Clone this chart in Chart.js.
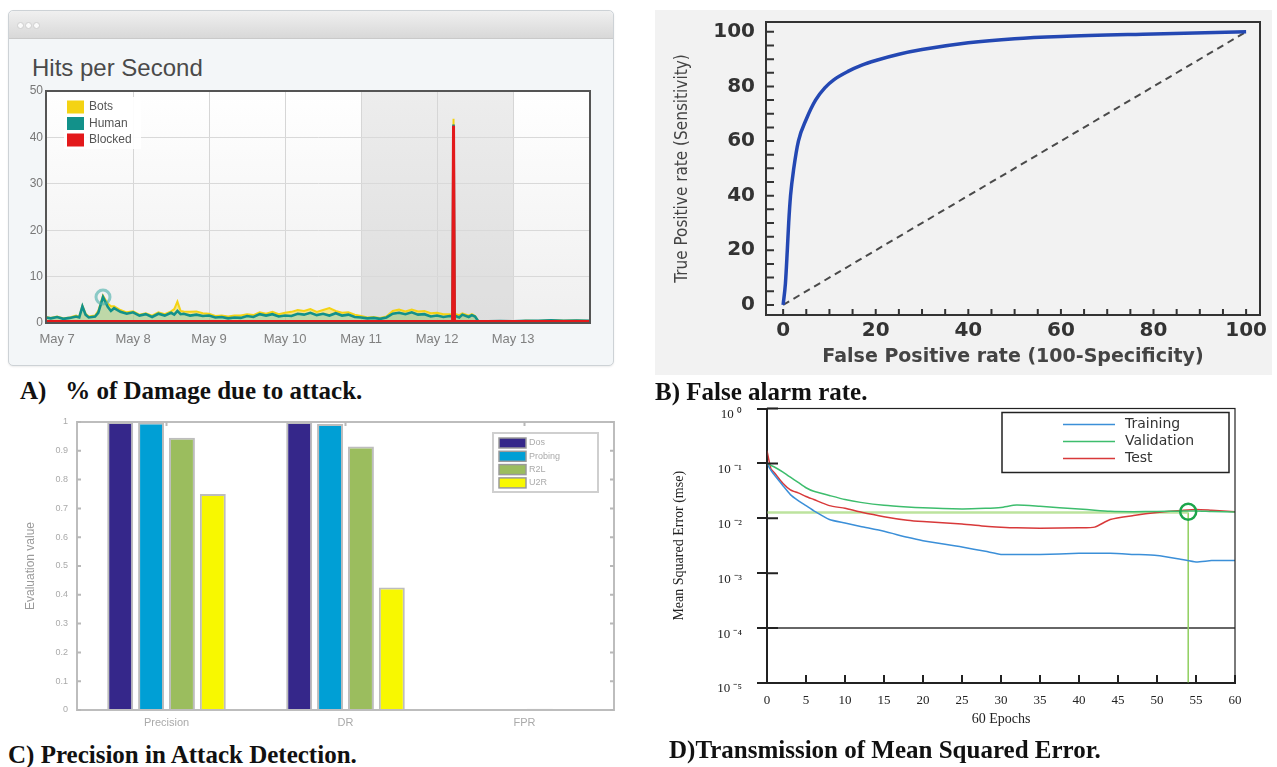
<!DOCTYPE html>
<html>
<head>
<meta charset="utf-8">
<title>Attack detection figures</title>
<script src="https://cdn.jsdelivr.net/npm/chart.js@4.4.0/dist/chart.umd.min.js"></script>
<style>
  body { margin: 0; background: #fff; }
  #page { position: relative; width: 1277px; height: 767px; overflow: hidden; }
  .abs { position: absolute; }
  #winA { left: 8px; top: 10px; width: 604px; height: 354px; border: 1px solid #cdd2d6; border-radius: 5px; background: #f3f6f8; box-shadow: 0 1px 2px rgba(0,0,0,0.08); }
  #winA .bar { height: 27px; border-bottom: 1px solid #c9c9c9; border-radius: 5px 5px 0 0; background: linear-gradient(#f0f0f0, #d8d8d8); }
  .dot { position: absolute; top: 11px; width: 5px; height: 5px; border-radius: 50%; background: #fafafa; border: 1px solid #cfcfcf; }
  #titleA { left: 32px; top: 56px; font: 24px 'Liberation Sans', Arial, sans-serif; line-height: 24px; color: #4a4a4a; }
  #bgB { left: 655px; top: 10px; width: 617px; height: 365px; background: #f2f2f2; }
  .cap { position: absolute; font: bold 25px 'Liberation Serif', 'Times New Roman', serif; line-height: 28px; color: #111; white-space: pre; }
  canvas { position: absolute; }
</style>
</head>
<body>
<div id="page">
  <div id="winA" class="abs"><div class="bar"></div>
    <span class="dot" style="left:8px"></span><span class="dot" style="left:16px"></span><span class="dot" style="left:24px"></span>
  </div>
  <div id="titleA" class="abs">Hits per Second</div>
  <canvas id="chartA" style="left:0;top:40px" width="614" height="326"></canvas>

  <div id="bgB" class="abs"></div>
  <canvas id="chartB" style="left:655px;top:10px" width="617" height="365"></canvas>

  <canvas id="chartC" style="left:0;top:410px" width="625" height="330"></canvas>
  <canvas id="chartD" style="left:640px;top:398px" width="637" height="340"></canvas>

  <div class="cap" style="left:20px;top:377px">A)   % of Damage due to attack.</div>
  <div class="cap" style="left:655px;top:378px">B) False alarm rate.</div>
  <div class="cap" style="left:8px;top:741px">C) Precision in Attack Detection.</div>
  <div class="cap" style="left:669px;top:736px">D)Transmission of Mean Squared Error.</div>
</div>

<script>
// ---------- A) hits per second (hours from May 7 00:00) ----------
const hitHours = [
  -3.5, -2, 0, 2, 4, 6, 7, 8, 9, 10,
  12, 13, 14.5, 16, 17, 18, 20, 22, 24, 26,
  28, 30, 32, 34, 36, 37, 38, 39, 40, 42,
  44, 46, 48, 50, 52, 54, 56, 58, 60, 62,
  64, 66, 68, 70, 72, 74, 76, 78, 80, 82,
  84, 86, 88, 90, 92, 94, 96, 98, 100, 102,
  104, 106, 108, 110, 112, 114, 116, 118, 120, 122,
  124, 124.9, 125.2, 125.5, 127, 128, 130, 131, 132, 133,
  134, 136, 140, 144, 148, 152, 156, 160, 164, 168.3
];
const blockedHits = [
  0.3, 0.3, 0.3, 0.3, 0.3, 0.3, 0.3, 0.3, 0.3, 0.3,
  0.3, 0.3, 0.3, 0.3, 0.3, 0.3, 0.3, 0.3, 0.3, 0.3,
  0.3, 0.3, 0.3, 0.3, 0.3, 0.3, 0.3, 0.3, 0.3, 0.3,
  0.3, 0.3, 0.3, 0.3, 0.3, 0.3, 0.3, 0.3, 0.3, 0.3,
  0.3, 0.3, 0.3, 0.3, 0.3, 0.3, 0.3, 0.3, 0.3, 0.3,
  0.3, 0.3, 0.3, 0.3, 0.3, 0.3, 0.3, 0.3, 0.3, 0.3,
  0.3, 0.3, 0.3, 0.3, 0.3, 0.3, 0.3, 0.3, 0.3, 0.3,
  0.3, 0.3, 42.5, 0.3, 0.3, 0.3, 0.3, 0.3, 0.3, 0.3,
  0.3, 0.3, 0.3, 0.3, 0.3, 0.3, 0.3, 0.3, 0.3, 0.3
];
const humanHits = [
  0.9, 0.7, 1.0, 0.6, 0.8, 1.1, 0.9, 3.3, 1.5, 0.9,
  1.1, 1.9, 5.3, 3.2, 2.3, 2.9, 2.1, 1.7, 2.0, 1.3,
  1.6, 1.0, 1.7, 1.3, 1.9, 1.5, 2.3, 1.6, 1.7, 1.3,
  1.5, 1.2, 1.3, 0.9, 1.0, 0.7, 0.9, 0.8, 1.2, 1.0,
  1.6, 1.3, 1.6, 1.1, 1.3, 1.2, 1.7, 1.5, 1.9, 1.4,
  1.7, 1.3, 1.8, 1.3, 1.5, 1.0, 0.9, 0.7, 0.8, 0.6,
  0.9, 1.7, 1.9, 1.6, 2.0, 1.5, 1.6, 1.1, 1.3, 1.0,
  1.2, 1.1, 0.3, 1.3, 0.9, 1.5, 1.0, 1.4, 1.1, 0.1,
  0, 0.05, 0.1, 0.05, 0.2, 0.15, 0.3, 0.2, 0.25, 0.15
];
const botsHits = [
  0.1, 0.1, 0.1, 0.1, 0.1, 0.2, 0.1, 0.1, 0.2, 0.2,
  0.2, 0.4, 0.3, 0.7, 1.0, 0.4, 0.4, 0.3, 0.2, 0.2,
  0.2, 0.3, 0.3, 0.3, 0.3, 1.2, 2.0, 0.7, 0.5, 0.8,
  0.7, 0.6, 0.4, 0.3, 0.3, 0.4, 0.4, 0.5, 0.4, 0.4,
  0.4, 0.4, 0.5, 0.5, 0.6, 0.9, 0.8, 0.8, 0.8, 0.7,
  0.8, 1.6, 0.5, 0.6, 0.5, 0.5, 0.3, 0.2, 0.2, 0.2,
  0.2, 0.6, 0.7, 0.6, 0.6, 0.7, 0.7, 0.7, 0.6, 0.6,
  0.4, 0.4, 1.2, 0.4, 0.5, 0.3, 0.3, 0.2, 0.1, 0,
  0, 0, 0, 0, 0, 0, 0, 0, 0, 0
];
const dayTicks = [0, 24, 48, 72, 96, 120, 144];
const dayLabels = ['May 7', 'May 8', 'May 9', 'May 10', 'May 11', 'May 12', 'May 13'];
const shadedHours = [96, 144];

// ---------- B) ROC curve ----------
const rocFpr = [0, 0.5, 0.9, 1.2, 1.6, 2.3, 3.3, 5, 7, 9, 11, 14, 17, 20, 25, 30, 40, 50, 60, 80, 100];
const rocTpr = [0, 8, 20, 30, 40, 50, 60, 68, 75, 79.5, 82.5, 85.5, 87.8, 89.5, 91.8, 93.5, 96, 97.5, 98.3, 99.2, 100];
const rocTicks = [0, 20, 40, 60, 80, 100];
const rocMinor = [0, 5, 10, 15, 20, 25, 30, 35, 40, 45, 50, 55, 60, 65, 70, 75, 80, 85, 90, 95, 100];

// ---------- C) evaluation values ----------
const metricLabels = ['Precision', 'DR', 'FPR'];
const dosScores = [1.0, 1.0, 0.003];
const probingScores = [0.998, 0.993, 0.003];
const r2lScores = [0.945, 0.915, 0.004];
const u2rScores = [0.75, 0.425, 0.003];

// ---------- D) mean squared error ----------
const epochs = [0, 0.5, 1, 2, 3, 4, 5, 6, 8, 10, 12, 15, 18, 20, 25, 28, 30, 32, 35, 40, 42, 44, 47, 50, 53, 55, 57, 60];
const trainMse = [0.1, 0.075, 0.06, 0.04, 0.027, 0.021, 0.017, 0.0137, 0.0095, 0.0082, 0.0071, 0.0058, 0.0045, 0.0039,
  0.003, 0.0025, 0.0022, 0.0022, 0.0022, 0.0023, 0.0023, 0.0023, 0.0022, 0.0021, 0.0018, 0.0016, 0.0017, 0.0017];
const validMse = [0.1, 0.092, 0.085, 0.07, 0.056, 0.045, 0.036, 0.031, 0.026, 0.022, 0.0195, 0.0172, 0.016, 0.0155,
  0.0148, 0.0152, 0.0158, 0.0174, 0.0165, 0.0148, 0.014, 0.0134, 0.0132, 0.0133, 0.0135, 0.0136, 0.0133, 0.013];
const testMse = [0.17, 0.08, 0.066, 0.044, 0.033, 0.029, 0.025, 0.022, 0.017, 0.0152, 0.013, 0.0107, 0.0092, 0.0087,
  0.0079, 0.0072, 0.0069, 0.0067, 0.0066, 0.0067, 0.0069, 0.0095, 0.0112, 0.0127, 0.0138, 0.0145, 0.014, 0.0132];
const bestEpoch = 54;
const bestMse = 0.0128;
const goalMse = 1e-4;
const decadeTicks = [1e-5, 1e-4, 1e-3, 1e-2, 1e-1, 1];
const decadeLabels = ['10 \u207b\u2075', '10 \u207b\u2074', '10 \u207b\u00b3', '10 \u207b\u00b2', '10 \u207b\u00b9', '10 \u2070'];
const epochTicks = [5, 10, 15, 20, 25, 30, 35, 40, 45, 50, 55, 60];


const pairs = (xs, ys) => xs.map((x, i) => ({ x: x, y: ys[i] }));

// fixed axis boxes, so the plot areas land where the figure has them
const fitY = w => s => { s.width = w; s.paddingTop = 0; s.paddingBottom = 0; };
const fitX = h => s => { s.height = h; s.paddingLeft = 0; s.paddingRight = 0; };

Chart.defaults.font.family = "'Liberation Sans', Arial, sans-serif";
Chart.defaults.animation = false;

// plot background (+ shaded band)
function makeBackground(band) {
  return {
    id: 'plotBg',
    beforeDraw(chart) {
      const ctx = chart.ctx, a = chart.chartArea;
      ctx.save();
      const g = ctx.createLinearGradient(0, a.top, 0, a.bottom);
      g.addColorStop(0, '#ffffff');
      g.addColorStop(1, '#efefef');
      ctx.fillStyle = g;
      ctx.fillRect(a.left, a.top, a.right - a.left, a.bottom - a.top);
      if (band) {
        const x = chart.scales.x;
        const x0 = x.getPixelForValue(band[0]), x1 = x.getPixelForValue(band[1]);
        ctx.fillStyle = 'rgba(0,0,0,0.07)';
        ctx.fillRect(x0, a.top, x1 - x0, a.bottom - a.top);
      }
      ctx.restore();
    }
  };
}

function makeFrame(color, width) {
  return {
    id: 'frame',
    afterDatasetsDraw(chart) {
      const ctx = chart.ctx, a = chart.chartArea;
      ctx.save();
      ctx.strokeStyle = color;
      ctx.lineWidth = width;
      ctx.strokeRect(a.left, a.top, a.right - a.left, a.bottom - a.top);
      ctx.restore();
    }
  };
}

// small tick marks drawn on the inside of the frame
function makeInnerTicks(list) {
  return {
    id: 'innerTicks',
    afterDatasetsDraw(chart) {
      const ctx = chart.ctx, a = chart.chartArea;
      ctx.save();
      list.forEach(t => {
        const s = chart.scales[t.axis];
        const px = t.values ? t.values.map(v => s.getPixelForValue(v)) : s.ticks.map((_, i) => s.getPixelForTick(i));
        ctx.strokeStyle = t.color;
        ctx.lineWidth = t.width;
        ctx.beginPath();
        px.forEach(p => {
          if (t.side === 'left') { ctx.moveTo(a.left, p); ctx.lineTo(a.left + t.len, p); }
          if (t.side === 'right') { ctx.moveTo(a.right, p); ctx.lineTo(a.right - t.len, p); }
          if (t.side === 'bottom') { ctx.moveTo(p, a.bottom); ctx.lineTo(p, a.bottom - t.len); }
          if (t.side === 'top') { ctx.moveTo(p, a.top); ctx.lineTo(p, a.top + t.len); }
        });
        ctx.stroke();
      });
      ctx.restore();
    }
  };
}

// legend box drawn inside the plot
function makeLegend(o) {
  return {
    id: 'boxLegend',
    afterDraw(chart) {
      const ctx = chart.ctx, a = chart.chartArea;
      const items = chart.data.datasets.filter(d => d.legend).sort((p, q) => p.legend - q.legend);
      const x = a.left + o.x, y = a.top + o.y;
      ctx.save();
      ctx.fillStyle = o.bg;
      ctx.fillRect(x, y, o.w, o.h);
      if (o.border) {
        ctx.strokeStyle = o.border;
        ctx.lineWidth = o.borderWidth;
        ctx.strokeRect(x, y, o.w, o.h);
      }
      ctx.font = o.font;
      ctx.textBaseline = 'middle';
      ctx.textAlign = 'left';
      items.forEach((d, i) => {
        const cy = y + o.first + i * o.rowH;
        if (o.kind === 'line') {
          ctx.strokeStyle = d.borderColor;
          ctx.lineWidth = 1.5;
          ctx.beginPath();
          ctx.moveTo(x + o.swX, cy);
          ctx.lineTo(x + o.swX + o.swW, cy);
          ctx.stroke();
        } else {
          ctx.fillStyle = o.kind === 'fill' ? d.backgroundColor : d.borderColor;
          ctx.fillRect(x + o.swX, cy - o.swH / 2, o.swW, o.swH);
          if (o.swBorder) {
            ctx.strokeStyle = o.swBorder;
            ctx.lineWidth = 1.5;
            ctx.strokeRect(x + o.swX, cy - o.swH / 2, o.swW, o.swH);
          }
        }
        ctx.fillStyle = o.color;
        ctx.fillText(d.label, x + o.textX, cy);
      });
      ctx.restore();
    }
  };
}

window.onload = function () {

  // ****************** A) Hits per Second ******************
  new Chart(document.getElementById('chartA'), {
    type: 'line',
    data: {
      datasets: [
        { label: 'Blocked', data: pairs(hitHours, blockedHits), borderColor: '#e3191b', backgroundColor: '#e3191b',
          borderWidth: 3, fill: 'origin', legend: 3 },
        { label: 'Human', data: pairs(hitHours, humanHits), borderColor: '#12918a', backgroundColor: 'rgba(150,196,110,0.55)',
          borderWidth: 2.6, fill: '-1', legend: 2,
          pointRadius: c => c.dataIndex === 12 ? 7 : 0,
          pointBorderColor: 'rgba(70,175,170,0.6)', pointBorderWidth: 3, pointBackgroundColor: 'rgba(0,0,0,0)' },
        { label: 'Bots', data: pairs(hitHours, botsHits), borderColor: '#f4d313', backgroundColor: 'rgba(246,222,70,0.6)',
          borderWidth: 2, fill: '-1', legend: 1 }
      ]
    },
    options: {
      responsive: false,
      devicePixelRatio: 1,
      layout: { padding: { top: 51, right: 24, left: 0, bottom: 0 } },
      elements: { point: { radius: 0 }, line: { tension: 0 } },
      scales: {
        x: {
          type: 'linear', min: -3.5, max: 168.3,
          afterBuildTicks: s => { s.ticks = dayTicks.map(v => ({ value: v })); },
          afterFit: fitX(43),
          ticks: { callback: (v, i) => dayLabels[i], color: '#808080', font: { size: 13 }, padding: 9, maxRotation: 0, autoSkip: false },
          grid: { color: c => c.index === 0 ? 'rgba(0,0,0,0)' : '#d6d6d6', drawTicks: false },
          border: { color: '#555', width: 2 }
        },
        y: {
          stacked: true, min: 0, max: 50,
          afterFit: fitY(46),
          ticks: { stepSize: 10, color: '#777', font: { size: 12 }, padding: 3 },
          grid: { color: '#d9d9d9', drawTicks: false },
          border: { color: '#555', width: 2 }
        }
      },
      plugins: { legend: { display: false }, tooltip: { enabled: false } }
    },
    plugins: [
      makeBackground(shadedHours),
      makeFrame('#555', 2),
      makeLegend({ x: 18, y: 6, w: 77, h: 52, bg: 'rgba(255,255,255,0.92)', first: 10, rowH: 16.5,
        kind: 'solid', swX: 3, swW: 17, swH: 13, textX: 25, font: "12px 'Liberation Sans', Arial", color: '#555' })
    ]
  });

  // ****************** B) ROC ******************
  new Chart(document.getElementById('chartB'), {
    type: 'line',
    data: {
      datasets: [
        { label: 'ROC', data: pairs(rocFpr, rocTpr), borderColor: '#2448b3', borderWidth: 3.5, cubicInterpolationMode: 'monotone' },
        { label: 'Chance', data: pairs([0, 100], [0, 100]), borderColor: '#4a4a4a', borderWidth: 2, borderDash: [7, 5] }
      ]
    },
    options: {
      responsive: false,
      devicePixelRatio: 1,
      layout: { padding: { top: 12, right: 12, left: 0, bottom: 0 } },
      elements: { point: { radius: 0 } },
      scales: {
        x: {
          type: 'linear', min: -3.7, max: 103,
          afterBuildTicks: s => { s.ticks = rocTicks.map(v => ({ value: v })); },
          afterFit: fitX(60),
          ticks: { color: '#333', font: { family: "'DejaVu Sans'", size: 20, weight: 'bold' }, padding: 4, maxRotation: 0 },
          grid: { display: false, drawTicks: false },
          border: { display: false },
          title: { display: true, text: 'False Positive rate (100-Specificity)', color: '#444',
            font: { family: "'DejaVu Sans'", size: 19, weight: 'bold' }, padding: { top: 0, bottom: 7 } }
        },
        y: {
          min: -3.7, max: 103.6,
          afterBuildTicks: s => { s.ticks = rocTicks.map(v => ({ value: v })); },
          afterFit: fitY(111),
          ticks: { color: '#333', font: { family: "'DejaVu Sans'", size: 20, weight: 'bold' }, padding: 11 },
          grid: { display: false, drawTicks: false },
          border: { display: false },
          title: { display: true, text: 'True Positive rate (Sensitivity)', color: '#444',
            font: { family: "'Liberation Sans Narrow', 'DejaVu Sans Condensed', 'Liberation Sans'", size: 17 }, padding: { top: 17, bottom: 0 } }
        }
      },
      plugins: { legend: { display: false }, tooltip: { enabled: false } }
    },
    plugins: [
      makeFrame('#333', 2),
      makeInnerTicks([
        { axis: 'y', side: 'left', values: rocMinor, len: 8, color: '#333', width: 2 },
        { axis: 'x', side: 'bottom', values: rocMinor, len: 6, color: '#333', width: 2 }
      ])
    ]
  });

  // ****************** C) Evaluation values ******************
  new Chart(document.getElementById('chartC'), {
    type: 'bar',
    data: {
      labels: metricLabels,
      datasets: [
        { label: 'Dos', data: dosScores, backgroundColor: '#35278a', legend: 1 },
        { label: 'Probing', data: probingScores, backgroundColor: '#009fd5', legend: 2 },
        { label: 'R2L', data: r2lScores, backgroundColor: '#9bbd5e', legend: 3 },
        { label: 'U2R', data: u2rScores, backgroundColor: '#f8f800', legend: 4 }
      ]
    },
    options: {
      responsive: false,
      devicePixelRatio: 1,
      layout: { padding: { top: 12, right: 11, left: 0, bottom: 0 } },
      datasets: { bar: { categoryPercentage: 0.69, barPercentage: 0.84, borderColor: '#bdbdbd', borderWidth: 2 } },
      scales: {
        x: {
          afterFit: fitX(30),
          ticks: { color: '#aaa', font: { size: 11 }, padding: 6 },
          grid: { display: false, drawTicks: false },
          border: { color: '#b8b8b8', width: 2 }
        },
        y: {
          min: 0, max: 1,
          afterFit: fitY(77),
          ticks: { stepSize: 0.1, color: '#aaa', font: { size: 9 }, padding: 9,
            callback: v => (v === 0 || v === 1) ? String(v) : v.toFixed(1) },
          grid: { display: false, drawTicks: false },
          border: { color: '#b8b8b8', width: 2 },
          title: { display: true, text: 'Evaluation value', color: '#9a9a9a', font: { size: 12 }, padding: { top: 23, bottom: 0 } }
        }
      },
      plugins: { legend: { display: false }, tooltip: { enabled: false } }
    },
    plugins: [
      makeFrame('#bdbdbd', 2),
      makeInnerTicks([
        { axis: 'y', side: 'left', len: 4, color: '#b8b8b8', width: 2 },
        { axis: 'y', side: 'right', len: 4, color: '#b8b8b8', width: 2 },
        { axis: 'x', side: 'top', len: 4, color: '#b8b8b8', width: 2 }
      ]),
      makeLegend({ x: 416, y: 11, w: 105, h: 59, bg: '#fff', border: '#cfcfcf', borderWidth: 2, first: 10, rowH: 13.3,
        kind: 'fill', swX: 6, swW: 27, swH: 10, swBorder: '#9a9a9a', textX: 36, font: "9px 'Liberation Sans', Arial", color: '#aaa' })
    ]
  });

  // ****************** D) Mean squared error ******************
  new Chart(document.getElementById('chartD'), {
    type: 'line',
    data: {
      datasets: [
        { label: 'Best point', data: [{ x: bestEpoch, y: 0.0132 }], showLine: false, pointRadius: 8,
          pointBorderColor: '#1ba64b', pointBorderWidth: 2.5, pointBackgroundColor: 'rgba(0,0,0,0)' },
        { label: 'Training', data: pairs(epochs, trainMse), borderColor: '#3b8fd8', borderWidth: 1.5, legend: 1 },
        { label: 'Validation', data: pairs(epochs, validMse), borderColor: '#3dbd6d', borderWidth: 1.5, legend: 2 },
        { label: 'Test', data: pairs(epochs, testMse), borderColor: '#d8393a', borderWidth: 1.5, legend: 3 },
        { label: 'Best', data: pairs([0, bestEpoch], [bestMse, bestMse]), borderColor: '#bde39e', borderWidth: 2.5 },
        { label: 'Best epoch', data: pairs([bestEpoch, bestEpoch], [1e-5, bestMse]), borderColor: '#8fcf5e', borderWidth: 1.5 },
        { label: 'Goal', data: pairs([0, 60], [goalMse, goalMse]), borderColor: '#333', borderWidth: 1.5 }
      ]
    },
    options: {
      responsive: false,
      devicePixelRatio: 1,
      layout: { padding: { top: 9, right: 42, left: 0, bottom: 0 } },
      elements: { point: { radius: 0 }, line: { tension: 0.2 } },
      scales: {
        x: {
          type: 'linear', min: 0, max: 60,
          afterFit: fitX(55),
          ticks: { stepSize: 5, color: '#222', font: { family: "'Liberation Serif', serif", size: 13 }, padding: 10, maxRotation: 0 },
          grid: { display: false, drawTicks: false },
          border: { color: '#222', width: 2 },
          title: { display: true, text: '60 Epochs', color: '#222', font: { family: "'Liberation Serif', serif", size: 14 }, padding: { top: 0, bottom: 10 } }
        },
        y: {
          type: 'logarithmic', min: 1e-5, max: 1,
          afterBuildTicks: s => { s.ticks = decadeTicks.map(v => ({ value: v })); },
          afterFit: fitY(127),
          ticks: { callback: (v, i) => decadeLabels[i], color: '#222', font: { family: "'Liberation Serif', serif", size: 13 },
            padding: 15, labelOffset: 6 },
          grid: { drawOnChartArea: false, drawTicks: true, tickLength: 10, color: '#222', lineWidth: 2 },
          border: { color: '#222', width: 2 },
          title: { display: true, text: 'Mean Squared Error (mse)', color: '#222', font: { family: "'Liberation Serif', serif", size: 14 }, padding: { top: 31, bottom: 0 } }
        }
      },
      plugins: { legend: { display: false }, tooltip: { enabled: false } }
    },
    plugins: [
      makeFrame('#222', 1.2),
      makeInnerTicks([
        { axis: 'y', side: 'left', values: decadeTicks, len: 11, color: '#222', width: 2 },
        { axis: 'x', side: 'bottom', values: epochTicks, len: 8, color: '#222', width: 2 }
      ]),
      makeLegend({ x: 235, y: 4, w: 227, h: 60, bg: '#fff', border: '#222', borderWidth: 1.5, first: 12, rowH: 17,
        kind: 'line', swX: 61, swW: 52, textX: 123, font: "14px 'DejaVu Sans', sans-serif", color: '#333' })
    ]
  });

};
</script>
</body>
</html>
